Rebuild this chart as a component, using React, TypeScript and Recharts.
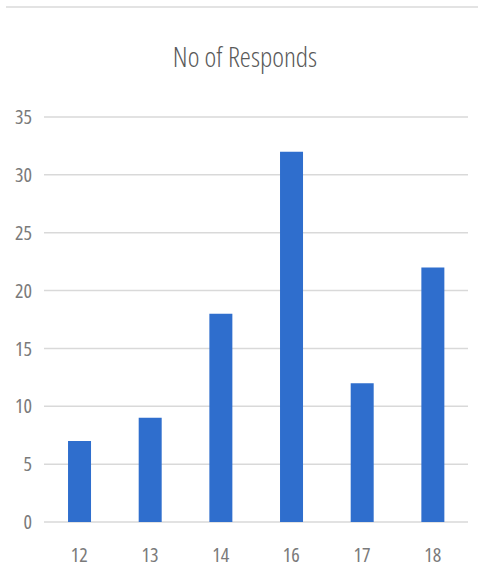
import React from "react";
import { BarChart, Bar, XAxis, YAxis, CartesianGrid } from "recharts";

const categories = ["12", "13", "14", "16", "17", "18"];
const responds = [7, 9, 18, 32, 12, 22];
const yTicks = [0, 5, 10, 15, 20, 25, 30, 35];

const data = categories.map((c, i) => ({ age: c, value: responds[i] }));

const FONT = "'Open Sans', sans-serif";
const STRETCH = "75%";

export default function App() {
  return (
    <div style={{ position: "absolute", left: 0, top: 0, width: 478, height: 584, background: "#fff" }}>
      <div style={{ position: "absolute", left: 6, top: 6, width: 472, height: 0, borderTop: "2px solid #e3e3e3" }} />
      <div
        style={{
          position: "absolute",
          left: 0,
          width: 490,
          top: 37,
          textAlign: "center",
          fontFamily: FONT,
          fontStretch: STRETCH,
          fontWeight: 300,
          fontSize: 28,
          color: "#595959",
          lineHeight: "38px",
        }}
      >
        No of Responds
      </div>
      <BarChart
        width={478}
        height={584}
        data={data}
        margin={{ top: 117, right: 10, bottom: 32, left: 0 }}
        barCategoryGap="34%"
      >
        <CartesianGrid vertical={false} stroke="#d9d9d9" strokeWidth={1.5} />
        <XAxis
          dataKey="age"
          axisLine={false}
          tickLine={false}
          tickMargin={20}
          tick={{ fill: "#7a7a7a", fontSize: 20, fontFamily: FONT, style: { fontStretch: STRETCH } }}
        />
        <YAxis
          width={44}
          domain={[0, 35]}
          ticks={yTicks}
          axisLine={false}
          tickLine={false}
          tickMargin={6}
          tick={{ fill: "#7a7a7a", fontSize: 20, fontFamily: FONT, style: { fontStretch: STRETCH } }}
        />
        <Bar dataKey="value" fill="#2f6ecd" isAnimationActive={false} />
      </BarChart>
    </div>
  );
}
